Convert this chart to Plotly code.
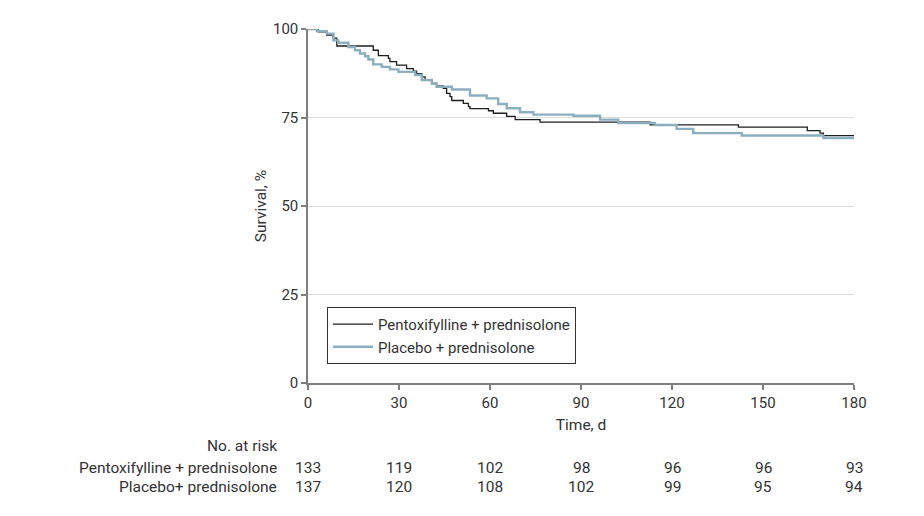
import plotly.graph_objects as go

# Kaplan-Meier step data
pento_t = [0, 3.3, 6.2, 8.3, 9.5, 21.5, 23.2, 26.5, 27, 29.2, 32.5, 34.7, 35.8, 37.5, 38.6, 40.8,
           42.4, 44.6, 45.7, 46.8, 47.4, 51.2, 52.9, 53.4, 59.5, 61.1, 65.5, 68.3, 76.5, 112.8,
           141.9, 164.6, 168.8, 169.9, 180]
pento_s = [100, 99.2, 98.3, 97.4, 95.2, 94.0, 92.5, 91.7, 90.8, 89.8, 88.8, 88.1, 87.4, 86.5, 85.6,
           84.6, 83.9, 83.2, 81.8, 80.9, 79.8, 79.0, 78.1, 77.5, 76.9, 76.2, 75.3, 74.4, 73.7, 72.9,
           72.3, 71.3, 70.6, 69.9, 69.9]

plac_t = [0, 2.9, 6.2, 8.4, 10, 13.3, 15.5, 17.1, 18.8, 19.9, 21.5, 24.3, 27, 29.8, 35.3, 37.5,
          40.8, 42.4, 47.4, 53.4, 58.9, 62.7, 65.5, 69.9, 74.3, 87.5, 96.3, 102.3, 114.4, 121.5,
          127, 143, 169.9, 180]
plac_s = [100, 99.4, 98.7, 96.8, 96.1, 94.9, 94.0, 93.1, 92.3, 91.4, 90.0, 89.3, 88.6, 87.9, 87.0,
          85.6, 84.6, 83.7, 82.9, 81.2, 80.4, 78.8, 77.6, 76.5, 75.8, 75.5, 74.4, 73.4, 72.9, 71.8,
          70.6, 69.9, 69.2, 69.2]

risk_times = [0, 30, 60, 90, 120, 150, 180]
risk_pento = [133, 119, 102, 98, 96, 96, 93]
risk_plac = [137, 120, 108, 102, 99, 95, 94]
row_labels = ["Pentoxifylline + prednisolone", "Placebo+ prednisolone"]

FONT = "Roboto"
TXT = "#333333"

fig = go.Figure()
fig.add_trace(go.Scatter(x=pento_t, y=pento_s, mode="lines", line_shape="hv",
                         line=dict(color="#1e1e1e", width=1.3),
                         name="Pentoxifylline + prednisolone", cliponaxis=False))
fig.add_trace(go.Scatter(x=plac_t, y=plac_s, mode="lines", line_shape="hv",
                         line=dict(color="#8cafc0", width=2.4),
                         name="Placebo + prednisolone", cliponaxis=False))

W, H = 924, 516
OFF = 8  # page offset of the figure in the browser
L, R, T, B = 300, 78, 19, 141
ph = H - T - B
pw = W - L - R

def py(pix):
    return (H - B - (pix - OFF)) / ph

def px(pix):
    return ((pix - OFF) - L) / pw

ann = []
ann.append(dict(text="No. at risk", xref="paper", yref="paper", x=px(279), y=py(446),
                xanchor="right", yanchor="middle", showarrow=False,
                font=dict(size=15.5)))
for i, (lab, vals) in enumerate([(row_labels[0], risk_pento), (row_labels[1], risk_plac)]):
    yy = py(468 + 20 * i)
    ann.append(dict(text=lab, xref="paper", yref="paper", x=px(279), y=yy,
                    xanchor="right", yanchor="middle", showarrow=False,
                    font=dict(size=15.5)))
    for t, v in zip(risk_times, vals):
        ann.append(dict(text=str(v), xref="x", yref="paper", x=t, y=yy,
                        xanchor="center", yanchor="middle", showarrow=False,
                        font=dict(size=15.5)))

fig.update_layout(
    width=W, height=H,
    margin=dict(l=L, r=R, t=T, b=B),
    paper_bgcolor="white", plot_bgcolor="white",
    font=dict(family=FONT, size=15, color=TXT),
    showlegend=True,
    legend=dict(x=px(327), y=py(306.5), xanchor="left", yanchor="top",
                bordercolor="#333333", borderwidth=1, bgcolor="white",
                font=dict(family=FONT, size=15, color=TXT),
                tracegroupgap=0, itemwidth=40),
    annotations=ann,
    xaxis=dict(range=[0, 180], tickvals=risk_times, showgrid=False, zeroline=False,
               showline=True, linecolor="#7f7f7f", linewidth=1.5,
               ticks="outside", ticklen=5, tickcolor="#7f7f7f", tickwidth=1.5,
               tickfont=dict(size=15),
               title=dict(text="Time, d", standoff=8, font=dict(size=15.5))),
    yaxis=dict(range=[0, 100], tickvals=[0, 25, 50, 75, 100], showgrid=True,
               gridcolor="#dcdcdc", gridwidth=1, zeroline=False,
               showline=True, linecolor="#7f7f7f", linewidth=1.5,
               ticks="outside", ticklen=5, tickcolor="#7f7f7f", tickwidth=1.5,
               tickfont=dict(size=15),
               title=dict(text="Survival, %", standoff=3, font=dict(size=15.5))),
)

fig.write_html("out.html")
